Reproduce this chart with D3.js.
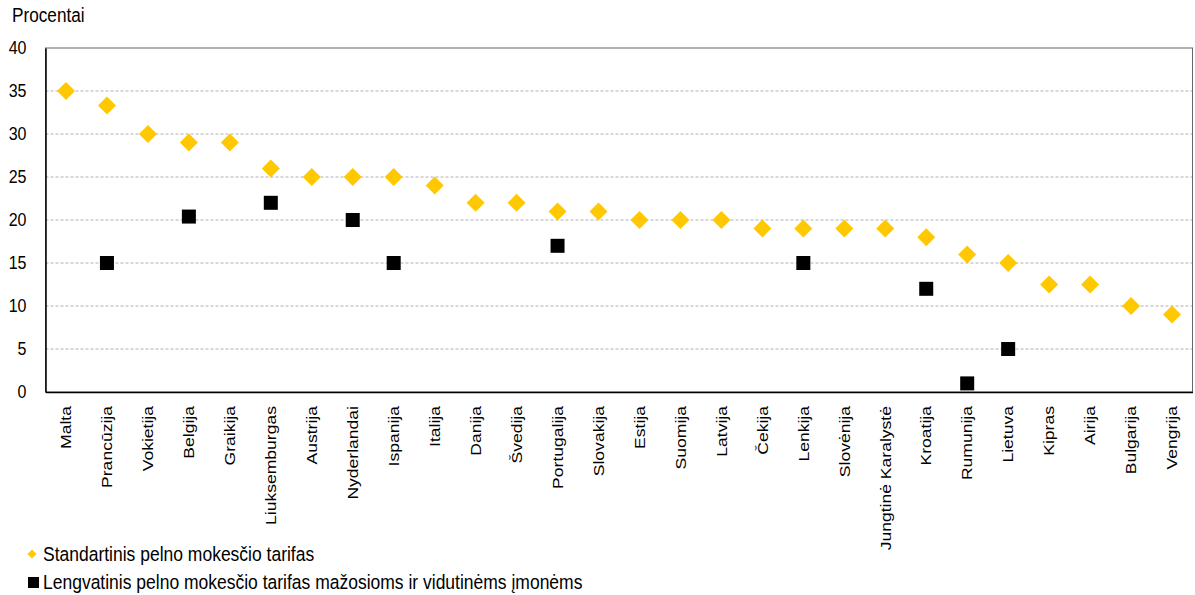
<!DOCTYPE html>
<html>
<head>
<meta charset="utf-8">
<script src="https://cdn.jsdelivr.net/npm/d3@7"></script>
<style>
  body { margin: 0; background: #fff; }
  svg { display: block; font-family: "Liberation Sans", Arial, sans-serif; }
</style>
</head>
<body>
<svg id="chart" width="1195" height="595"></svg>
<script>
// Countries, ordered by the standard corporate income tax rate
const countries = ["Malta", "Prancūzija", "Vokietija", "Belgija", "Graikija", "Liuksemburgas",
  "Austrija", "Nyderlandai", "Ispanija", "Italija", "Danija", "Švedija", "Portugalija",
  "Slovakija", "Estija", "Suomija", "Latvija", "Čekija", "Lenkija", "Slovėnija",
  "Jungtinė Karalystė", "Kroatija", "Rumunija", "Lietuva", "Kipras", "Airija", "Bulgarija", "Vengrija"];

// Standard rate, %
const standardRate = [35, 33.3, 30, 29, 29, 26, 25, 25, 25, 24, 22, 22, 21, 21, 20, 20, 20,
  19, 19, 19, 19, 18, 16, 15, 12.5, 12.5, 10, 9];

// Reduced rate for small and medium enterprises, % (null where none applies)
const reducedRate = [null, 15, null, 20.4, null, 22, null, 20, 15, null, null, null, 17,
  null, null, null, null, null, 15, null, null, 12, 1, 5, null, null, null, null];

const yTicks = [0, 5, 10, 15, 20, 25, 30, 35, 40];
const seriesNames = ["Standartinis pelno mokesčio tarifas",
  "Lengvatinis pelno mokesčio tarifas mažosioms ir vidutinėms įmonėms"];

const svg = d3.select("#chart");
const margin = { left: 45.5, right: 1192.5, top: 48, bottom: 392 };
const tall = 1.17; // narrow, tall lettering

const x = d3.scaleBand().domain(countries).range([margin.left, margin.right]);
const y = d3.scaleLinear().domain([0, 40]).range([margin.bottom, margin.top]);

// Dashed gridlines
svg.append("g")
  .selectAll("line")
  .data(yTicks.filter(t => t > 0 && t < 40))
  .join("line")
  .attr("x1", margin.left).attr("x2", margin.right)
  .attr("y1", d => y(d)).attr("y2", d => y(d))
  .attr("stroke", "#b0b0b0").attr("stroke-width", 1)
  .attr("stroke-dasharray", "3,2");

// Plot frame
svg.append("rect")
  .attr("x", margin.left).attr("y", margin.top)
  .attr("width", margin.right - margin.left).attr("height", margin.bottom - margin.top)
  .attr("fill", "none").attr("stroke", "#666").attr("stroke-width", 1);

// Y axis
const yAxis = svg.append("g")
  .attr("transform", `translate(${margin.left},0)`)
  .call(d3.axisLeft(y).tickValues(yTicks).tickSize(0).tickPadding(19));
yAxis.select(".domain").attr("stroke", "#000").attr("stroke-width", 1.5);
yAxis.selectAll("text").attr("font-size", 16).attr("fill", "#000")
  .attr("font-family", "Liberation Sans, Arial, sans-serif")
  .attr("transform", `scale(1,${tall})`);

// X axis with vertical labels
const xAxis = svg.append("g")
  .attr("transform", `translate(0,${margin.bottom})`)
  .call(d3.axisBottom(x).tickSize(0));
xAxis.select(".domain").attr("stroke", "#000").attr("stroke-width", 1.5);
xAxis.selectAll("text")
  .attr("font-size", 15).attr("fill", "#000")
  .attr("font-family", "Liberation Sans, Arial, sans-serif")
  .attr("transform", `rotate(-90) scale(${tall},1)`)
  .attr("text-anchor", "end")
  .attr("x", -12).attr("y", 0).attr("dy", "0.35em");

// Y axis title
svg.append("text")
  .attr("transform", `translate(12,21.5) scale(1,${tall})`)
  .attr("font-size", 17.2).attr("fill", "#000")
  .text("Procentai");

const cx = d => x(d) + x.bandwidth() / 2;
const diamond = d3.symbol().type(d3.symbolSquare).size(162);

// Standard rate: gold diamonds
svg.append("g")
  .selectAll("path")
  .data(countries.map((c, i) => ({ c, v: standardRate[i] })))
  .join("path")
  .attr("d", diamond)
  .attr("transform", d => `translate(${cx(d.c)},${y(d.v)}) rotate(45)`)
  .attr("fill", "#FFC800");

// Reduced rate: black squares
const sq = 14;
svg.append("g")
  .selectAll("rect")
  .data(countries.map((c, i) => ({ c, v: reducedRate[i] })).filter(d => d.v !== null))
  .join("rect")
  .attr("x", d => cx(d.c) - sq / 2)
  .attr("y", d => y(d.v) - sq / 2)
  .attr("width", sq).attr("height", sq)
  .attr("fill", "#000");

// Legend
const legend = svg.append("g");
legend.append("path")
  .attr("d", d3.symbol().type(d3.symbolSquare).size(40))
  .attr("transform", "translate(32,554) rotate(45)")
  .attr("fill", "#FFC800");
legend.append("text")
  .attr("transform", `translate(43,561) scale(1,${tall})`)
  .attr("font-size", 17.5).attr("fill", "#000")
  .text(seriesNames[0]);
legend.append("rect")
  .attr("x", 28).attr("y", 577).attr("width", 11).attr("height", 11)
  .attr("fill", "#000");
legend.append("text")
  .attr("transform", `translate(43,589) scale(1,${tall})`)
  .attr("font-size", 17.5).attr("fill", "#000")
  .text(seriesNames[1]);
</script>
</body>
</html>
